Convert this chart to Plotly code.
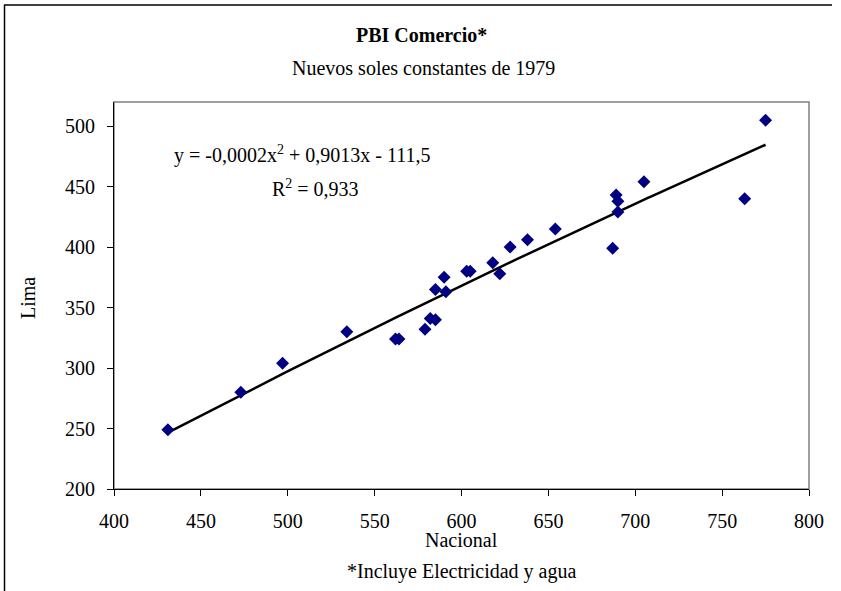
import numpy as np
import plotly.graph_objects as go

# Data (Nacional vs Lima)
nacional = [431, 473, 497, 534, 562, 564, 579, 582, 585, 585, 590, 591, 603, 605,
            618, 622, 628, 638, 654, 687, 689, 690, 690, 705, 763, 775]
lima = [249, 280, 304, 330, 324, 324, 332, 341, 340, 365, 375, 363, 380, 380,
        387, 378, 400, 406, 415, 399, 443, 438, 429, 454, 440, 505]

x_ticks = [400, 450, 500, 550, 600, 650, 700, 750, 800]
y_ticks = [200, 250, 300, 350, 400, 450, 500]

title = "<b>PBI Comercio*</b>"
subtitle = "Nuevos soles constantes de 1979"
x_title = "Nacional"
y_title = "Lima"
footnote = "*Incluye Electricidad y agua"
equation = "y = -0,0002x<sup>2</sup> + 0,9013x - 111,5"
r2_text = "R<sup>2</sup> = 0,933"

# polynomial (order 2) trendline fitted to the data
coef = np.polyfit(nacional, lima, 2)
xt = np.linspace(min(nacional), max(nacional), 200)
yt = np.polyval(coef, xt)

FONT = "Liberation Serif"
W, H = 841, 591
L, R, T, B = 114, 32, 102, 102
pw, ph = W - L - R, H - T - B

def px(x):
    return (x - L) / pw

def py(y):
    return (H - B - y) / ph

def txt(size):
    return dict(family=FONT, size=size, color="black")

def note(text, x, y, size=20, xanchor="center", **kw):
    return dict(text=text, xref="paper", yref="paper", x=px(x), y=py(y),
                xanchor=xanchor, yanchor="middle", showarrow=False,
                font=txt(size), **kw)

fig = go.Figure()
fig.add_trace(go.Scatter(x=xt, y=yt, mode="lines",
                         line=dict(color="black", width=2.5), hoverinfo="skip"))
fig.add_trace(go.Scatter(x=nacional, y=lima, mode="markers",
                         marker=dict(symbol="diamond", size=10, color="#000080",
                                     line=dict(width=0))))

axis_common = dict(showgrid=False, zeroline=False, showline=True, linecolor="black",
                   linewidth=1, ticks="outside", ticklen=6, tickcolor="black",
                   tickfont=txt(20), mirror=False)

fig.update_layout(
    width=W, height=H,
    margin=dict(l=L, r=R, t=T, b=B),
    paper_bgcolor="white", plot_bgcolor="white",
    showlegend=False,
    xaxis=dict(range=[400, 800], tickvals=x_ticks, ticklabelstandoff=8, **axis_common),
    yaxis=dict(range=[200, 520], tickvals=y_ticks, ticklabelstandoff=8, **axis_common),
    shapes=[
        # plot area border (grey)
        dict(type="rect", xref="paper", yref="paper", x0=0, y0=0, x1=1, y1=1,
             line=dict(color="#808080", width=1.5), layer="below"),
        # chart frame
        dict(type="line", xref="paper", yref="paper", x0=px(4), x1=px(832),
             y0=py(5), y1=py(5), line=dict(color="black", width=1.5)),
        dict(type="line", xref="paper", yref="paper", x0=px(4.5), x1=px(4.5),
             y0=py(5), y1=py(595), line=dict(color="black", width=1.5)),
    ],
    annotations=[
        note(title, 421, 35),
        note(subtitle, 423, 68),
        note(x_title, 462, 540),
        note(y_title, 28, 298, textangle=-90),
        note(footnote, 461, 571),
        note(equation, 172, 155, xanchor="left"),
        note(r2_text, 270, 188, xanchor="left"),
    ],
)

fig.write_html("out.html", config={"displayModeBar": False},
               post_script="document.body.style.margin='0px';")
